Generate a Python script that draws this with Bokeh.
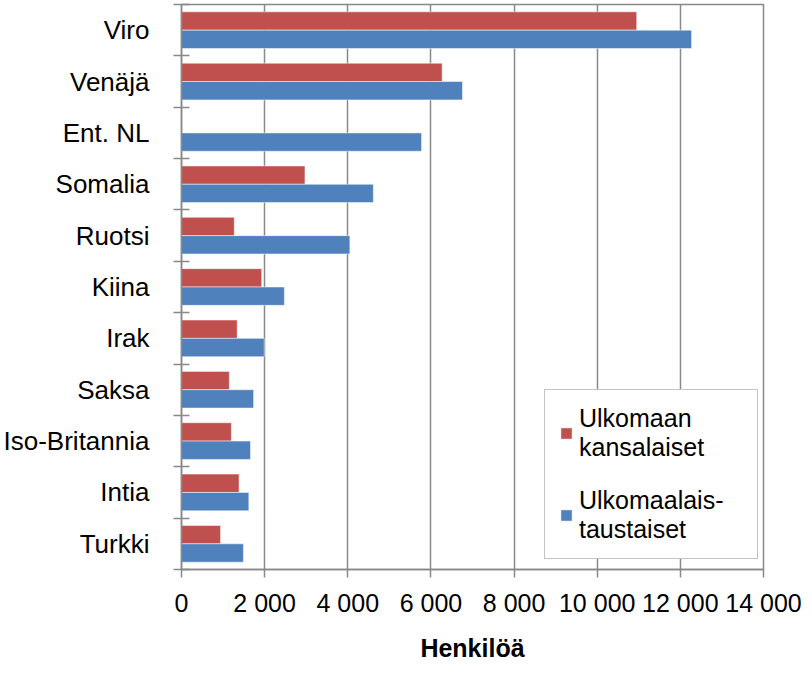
import numpy as np
from bokeh.plotting import figure
from bokeh.models import Range1d, FixedTicker, ColumnDataSource
from bokeh.embed import file_html
from bokeh.resources import INLINE

# ---- data (top to bottom as shown) ----
countries = ["Viro", "Venäjä", "Ent. NL", "Somalia", "Ruotsi", "Kiina",
             "Irak", "Saksa", "Iso-Britannia", "Intia", "Turkki"]
citizens = [10950, 6270, 0, 2970, 1270, 1930, 1340, 1150, 1200, 1385, 940]
background = [12270, 6760, 5775, 4615, 4050, 2475, 1990, 1735, 1660, 1620, 1490]
series_names = ["Ulkomaan\nkansalaiset", "Ulkomaalais-\ntaustaiset"]
x_ticks = [0, 2000, 4000, 6000, 8000, 10000, 12000, 14000]
x_tick_labels = ["0", "2 000", "4 000", "6 000", "8 000", "10 000", "12 000", "14 000"]
x_title = "Henkilöä"

RED = "#C0504D"
BLUE = "#4F81BD"
GRID = "#898989"
FONT = "Liberation Sans"

n = len(countries)
cats_bottom_up = countries[::-1]
centers = np.arange(n) + 0.5
bar_h = 1 / 2.8  # Excel gap width 80 %

src = ColumnDataSource(dict(
    y_red=centers + bar_h / 2,
    y_blue=centers - bar_h / 2,
    red=citizens[::-1],
    blue=background[::-1],
))

p = figure(frame_width=582, frame_height=565,
           x_range=Range1d(0, 14000), y_range=Range1d(0, n),
           output_backend="svg", toolbar_location=None,
           min_border_left=174, min_border_right=40, min_border_top=4, min_border_bottom=95)

p.hbar(y="y_red", right="red", left=0, height=bar_h, source=src, fill_color=RED,
       line_color="white", line_alpha=0.5, line_width=1, legend_label=series_names[0])
p.hbar(y="y_blue", right="blue", left=0, height=bar_h, source=src, fill_color=BLUE,
       line_color="white", line_alpha=0.5, line_width=1, legend_label=series_names[1])

# x axis
xa = p.xaxis[0]
xa.ticker = FixedTicker(ticks=x_ticks)
xa.major_label_overrides = dict(zip(x_ticks, x_tick_labels))
xa.major_label_text_font = FONT
xa.major_label_text_font_size = "25px"
xa.major_label_text_color = "black"
xa.major_label_standoff = 11
xa.major_tick_in = 0
xa.major_tick_out = 8
xa.major_tick_line_color = GRID
xa.major_tick_line_width = 1.5
xa.minor_tick_line_color = None
xa.axis_line_color = GRID
xa.axis_line_width = 1.5
xa.axis_label = x_title
xa.axis_label_text_font = FONT
xa.axis_label_text_font_size = "25px"
xa.axis_label_text_font_style = "bold"
xa.axis_label_text_color = "black"
xa.axis_label_standoff = 14

# y axis: labels at centres, tick marks at category boundaries
ya = p.yaxis[0]
ya.ticker = FixedTicker(ticks=list(centers), minor_ticks=list(range(n + 1)))
ya.major_label_overrides = {float(c): name for c, name in zip(centers, cats_bottom_up)}
ya.major_label_text_font = FONT
ya.major_label_text_font_size = "26px"
ya.major_label_text_color = "black"
ya.major_label_standoff = 24
ya.major_tick_in = 0
ya.major_tick_out = 0
ya.major_tick_line_color = None
ya.minor_tick_in = 8
ya.minor_tick_out = 8
ya.minor_tick_line_color = GRID
ya.minor_tick_line_width = 1.5
ya.axis_line_color = GRID
ya.axis_line_width = 1.5

p.xgrid.ticker = FixedTicker(ticks=x_ticks)
p.xgrid.grid_line_color = GRID
p.xgrid.grid_line_width = 1.5
p.ygrid.grid_line_color = None
p.outline_line_color = GRID
p.outline_line_width = 1.5
p.background_fill_color = "white"
p.border_fill_color = "white"

lg = p.legend[0]
lg.location = (363, 10)
lg.label_text_font = FONT
lg.label_text_font_size = "25px"
lg.label_text_color = "black"
lg.label_text_line_height = 1.3
lg.glyph_width = 14
lg.glyph_height = 14
lg.label_standoff = 6
lg.label_width = 164
lg.padding = 14
lg.spacing = 24
lg.border_line_color = GRID
lg.border_line_width = 1.5
lg.background_fill_color = "white"
lg.background_fill_alpha = 1.0

open("out.html", "w").write(file_html(p, INLINE))
